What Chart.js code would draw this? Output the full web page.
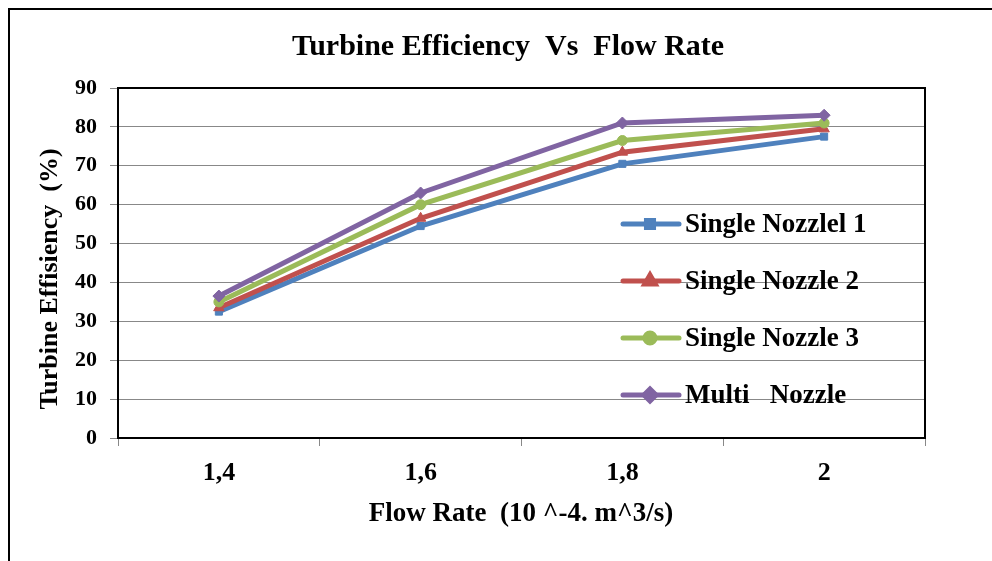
<!DOCTYPE html>
<html lang="en">
<head>
  <meta charset="UTF-8" />
  <title>Turbine Efficiency Vs Flow Rate</title>
  <style>
    body {
      margin: 0;
      background: #fff;
    }

    #wrap {
      position: relative;
      width: 992px;
      height: 561px;
      overflow: hidden;
    }

    /* black frame of the pasted chart object */
    #frame {
      position: absolute;
      left: 8px;
      top: 8px;
      width: 1000px;
      height: 600px;
      border-left: 2px solid #000;
      border-top: 2px solid #000;
    }

    canvas {
      position: absolute;
      left: 0;
      top: 0;
    }
  </style>
</head>
<body>

<div id="wrap">
  <div id="frame"></div>
  <canvas id="chart" width="992" height="561"></canvas>
</div>

<script src="https://cdn.jsdelivr.net/npm/chart.js"></script>

<script>
  const flowRates = ['1,4', '1,6', '1,8', '2'];
  const nozzle1 = [32.5, 54.5, 70.5, 77.5];
  const nozzle2 = [33.5, 56.5, 73.5, 79.5];
  const nozzle3 = [35, 60, 76.5, 81];
  const multiNozzle = [36.5, 63, 81, 83];

  const serif = "'Liberation Serif', 'Times New Roman', serif";

  // title, y title, legend and plot frame are drawn by hand to sit where the original has them
  const decorations = {
    id: 'decorations',
    afterDraw(chart) {
      const ctx = chart.ctx;
      const area = chart.chartArea;

      ctx.save();
      ctx.strokeStyle = '#000';
      ctx.lineWidth = 2;
      ctx.strokeRect(area.left, area.top, area.right - area.left, area.bottom - area.top);

      ctx.fillStyle = '#000';
      ctx.textAlign = 'center';
      ctx.textBaseline = 'middle';
      ctx.font = 'bold 30px ' + serif;
      ctx.fillText('Turbine Efficiency  Vs  Flow Rate', 508, 47);

      ctx.font = 'bold 27px ' + serif;
      ctx.fillText('Flow Rate  (10 ^-4. m^3/s)', 521, 514);

      ctx.translate(50, 279);
      ctx.rotate(-Math.PI / 2);
      ctx.font = 'bold 26px ' + serif;
      ctx.fillText('Turbine Effisiency  (%)', 0, 0);
      ctx.restore();

      // legend inside the plot
      ctx.save();
      chart.data.datasets.forEach((ds, i) => {
        const y = 224 + 57 * i;
        ctx.strokeStyle = ds.borderColor;
        ctx.fillStyle = ds.backgroundColor;
        ctx.lineWidth = 5;
        ctx.lineCap = 'round';
        ctx.beginPath();
        ctx.moveTo(623, y);
        ctx.lineTo(679, y);
        ctx.stroke();
        Chart.helpers.drawPoint(ctx, {
          pointStyle: ds.pointStyle,
          radius: ds.pointRadius,
          borderWidth: 1,
          rotation: 0
        }, 650, y);

        ctx.fillStyle = '#000';
        ctx.font = 'bold 27px ' + serif;
        ctx.textAlign = 'left';
        ctx.textBaseline = 'middle';
        ctx.fillText(ds.label, 685, y + 1);
      });
      ctx.restore();
    }
  };

  function series(label, values, color, style, radius, order) {
    return {
      label: label,
      data: values,
      borderColor: color,
      backgroundColor: color,
      borderWidth: 5,
      pointStyle: style,
      pointRadius: radius,
      pointBorderWidth: 1,
      tension: 0,
      order: order
    };
  }

  new Chart(document.getElementById('chart'), {
    type: 'line',
    data: {
      labels: flowRates,
      datasets: [
        series('Single Nozzlel 1', nozzle1, '#4F81BD', 'rect', 5, 3),
        series('Single Nozzle 2', nozzle2, '#C0504D', 'triangle', 6, 2),
        series('Single Nozzle 3', nozzle3, '#9BBB59', 'circle', 5, 1),
        series('Multi   Nozzle', multiNozzle, '#8064A2', 'rectRot', 6, 0)
      ]
    },
    options: {
      responsive: false,
      animation: false,
      layout: {
        padding: { top: 88, right: 67, left: 0, bottom: 0 }
      },
      plugins: {
        legend: { display: false },
        title: { display: false },
        tooltip: { enabled: false }
      },
      scales: {
        x: {
          offset: true,
          grid: {
            offset: true,
            drawOnChartArea: false,
            tickLength: 8,
            tickColor: '#888',
            color: '#888'
          },
          border: { display: true, color: '#000', width: 2 },
          ticks: {
            color: '#000',
            padding: 12,
            font: { family: serif, size: 26, weight: 'bold' }
          },
          afterFit(scale) {
            scale.height = 123;
          }
        },
        y: {
          min: 0,
          max: 90,
          grid: {
            color: '#888',
            tickLength: 8,
            tickColor: '#888'
          },
          border: { display: true, color: '#000', width: 2 },
          ticks: {
            stepSize: 10,
            color: '#000',
            padding: 13,
            font: { family: serif, size: 22, weight: 'bold' }
          },
          afterFit(scale) {
            scale.width = 118;
          }
        }
      }
    },
    plugins: [decorations]
  });
</script>

</body>
</html>
